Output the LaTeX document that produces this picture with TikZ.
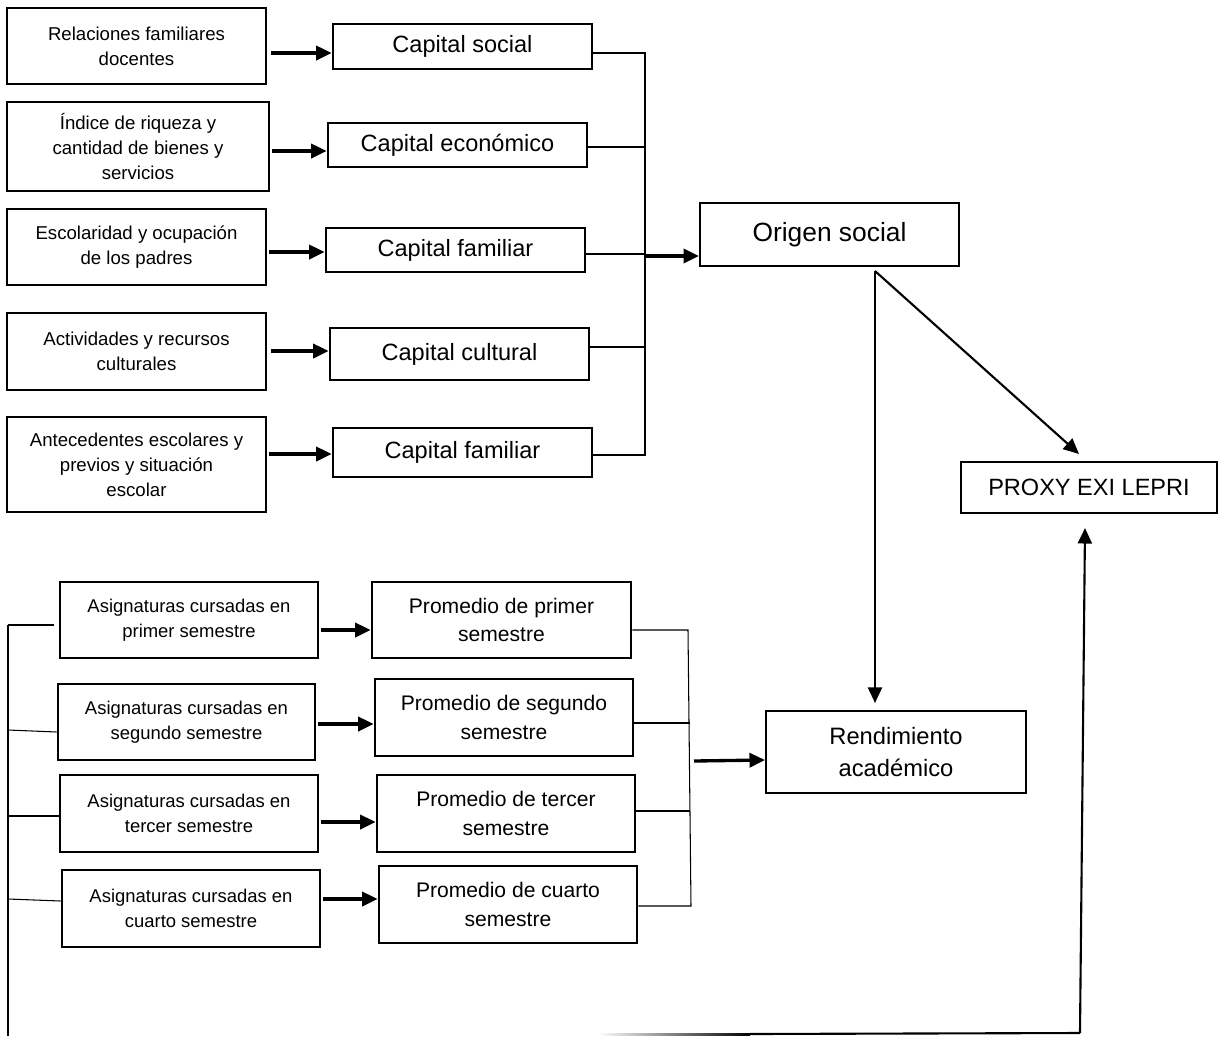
\documentclass[tikz,border=0pt]{standalone}
\usepackage{fontspec}
\setmainfont{Liberation Sans}
\usetikzlibrary{arrows.meta}

\begin{document}
\begin{tikzpicture}[x=0.02cm,y=-0.02cm,
	caja/.style={draw,line width=1.6pt,align=center,inner sep=0pt,minimum width=5.18cm},
	chica/.style={caja,font=\fontsize{10.6}{14.2}\selectfont},
	capital/.style={caja,font=\fontsize{13.4}{16}\selectfont},
	prom/.style={caja,font=\fontsize{12}{16}\selectfont},
	grande/.style={draw,line width=1.2pt,align=center,inner sep=0pt},
	flecha/.style={line width=1.9pt,-{Triangle[length=8.8pt,width=8pt]}},
	flechafina/.style={line width=1.2pt,-{Triangle[length=8.8pt,width=8pt]}},
	linea/.style={line width=0.6pt}]
	\useasboundingbox (0,0) rectangle (1218,1036);

	\node[chica,minimum height=1.52cm] (rel) at (136.5,46) {Relaciones familiares\\docentes};
	\node[chica,minimum height=1.78cm,minimum width=5.24cm] (ind) at (138,146.5) {Índice de riqueza y\\cantidad de bienes y\\servicios};
	\node[chica,minimum height=1.52cm] (esc) at (136.5,247) {Escolaridad y ocupación\\de los padres};
	\node[chica,minimum height=1.54cm] (act) at (136.5,351.5) {Actividades y recursos\\culturales};
	\node[chica,minimum height=1.9cm] (ant) at (136.5,464.5) {Antecedentes escolares y\\previos y situación\\escolar};

	\node[capital,minimum height=0.9cm] (cs) at (462.5,46.5) {Capital social};
	\node[capital,minimum height=0.88cm] (ce) at (457.5,145) {Capital económico};
	\node[capital,minimum height=0.88cm] (cf) at (455.5,250) {Capital familiar};
	\node[capital,minimum height=1.04cm] (cc) at (459.5,354) {Capital cultural};
	\node[capital,minimum height=0.98cm] (cf2) at (462.5,452.5) {Capital familiar};

	\node[grande,minimum width=5.18cm,minimum height=1.26cm,font=\fontsize{15}{18}\selectfont] (org) at (829.5,234.5) {Origen social};
	\node[grande,minimum width=5.12cm,minimum height=1.02cm,font=\fontsize{13.4}{16}\selectfont] (proxy) at (1089,487.5) {PROXY EXI LEPRI};
	\node[grande,minimum width=5.2cm,minimum height=1.64cm,font=\fontsize{13.5}{18}\selectfont] (rend) at (896,752) {Rendimiento\\académico};

	\node[chica,font=\fontsize{10.5}{14.2}\selectfont,minimum width=5.16cm,minimum height=1.52cm] (a1) at (189,620) {Asignaturas cursadas en\\primer semestre};
	\node[chica,font=\fontsize{10.5}{14.2}\selectfont,minimum width=5.14cm,minimum height=1.52cm] (a2) at (186.5,722) {Asignaturas cursadas en\\segundo semestre};
	\node[chica,font=\fontsize{10.5}{14.2}\selectfont,minimum width=5.16cm,minimum height=1.54cm] (a3) at (189,813.5) {Asignaturas cursadas en\\tercer semestre};
	\node[chica,font=\fontsize{10.5}{14.2}\selectfont,minimum width=5.16cm,minimum height=1.54cm] (a4) at (191,908.5) {Asignaturas cursadas en\\cuarto semestre};

	\node[prom,minimum height=1.52cm] (p1) at (501.5,620) {Promedio de primer\\semestre};
	\node[prom,minimum width=5.16cm,minimum height=1.54cm] (p2) at (504,717.5) {Promedio de segundo\\semestre};
	\node[prom,minimum width=5.16cm,minimum height=1.54cm] (p3) at (506,813.5) {Promedio de tercer\\semestre};
	\node[prom,minimum width=5.16cm,minimum height=1.54cm] (p4) at (508,904.5) {Promedio de cuarto\\semestre};

	\draw[flecha,shorten <=2.3pt] (rel.east |- 0,53) -- (cs.west |- 0,53);
	\draw[flecha,shorten <=1pt] (ind.east |- 0,151) -- (ce.west |- 0,151);
	\draw[flecha,shorten <=1pt] (esc.east |- 0,252) -- (cf.west |- 0,252);
	\draw[flecha,shorten <=2.3pt] (act.east |- 0,351) -- (cc.west |- 0,351);
	\draw[flecha,shorten <=1pt] (ant.east |- 0,454) -- (cf2.west |- 0,454);

	\coordinate (b1) at (645,53);
	\coordinate (b2) at (645,455);
	\draw[linea] (cs.east |- b1) -- (b1) -- (b2) -- (cf2.east |- b2);
	\draw[linea] (ce.east |- 0,147) -- (b1 |- 0,147);
	\draw[linea] (cf.east |- 0,254) -- (b1 |- 0,254);
	\draw[linea] (cc.east |- 0,347) -- (b1 |- 0,347);
	\draw[flecha] (b1 |- 0,256) -- (org.west |- 0,256);

	\coordinate (o) at (875,271);
	\draw[flechafina] (o) -- (o |- rend.north) [shorten >=4pt];
	\draw[flechafina] (o) -- ([xshift=-0.2cm,yshift=0.14cm]proxy.north);

	\draw[flecha,shorten <=1pt] (a1.east |- 0,630) -- (p1.west |- 0,630);
	\draw[flecha,shorten <=1pt] (a2.east |- 0,724) -- (p2.west |- 0,724);
	\draw[flecha,shorten <=1pt] (a3.east |- 0,822) -- (p3.west |- 0,822);
	\draw[flecha,shorten <=1pt] (a4.east |- 0,899) -- (p4.west |- 0,899);

	\coordinate (c0) at (688,630);
	\coordinate (c1) at (691,906);
	\draw[linea] (p1.east |- c0) -- (c0) -- (c1) -- (p4.east |- c1);
	\draw[linea] (p2.east |- 0,723) -- (689.5,723);
	\draw[linea] (p3.east |- 0,811) -- (690,811);
	\draw[flecha] (694,761) -- (rend.west |- 0,760);

	\coordinate (l0) at (8,625);
	\coordinate (l1) at (8,1036);
	\draw[linea] (l0) -- (l1);
	\draw[linea] (l0) -- ([xshift=-0.1cm]a1.west |- l0);
	\draw[linea] (8,730) -- (a2.west |- 0,732);
	\draw[linea] (8,816) -- (a3.west |- 0,816);
	\draw[linea] (8,899) -- (a4.west |- 0,901);

	\coordinate (r0) at (1080,1033);
	\shade[left color=white,right color=black] (598,1033) rectangle (750,1035);
	\draw[line width=1.2pt] (750,1034) -- (r0);
	\draw[flechafina] (r0) -- ([xshift=-0.08cm,yshift=-0.28cm]proxy.south);
\end{tikzpicture}
\end{document}
